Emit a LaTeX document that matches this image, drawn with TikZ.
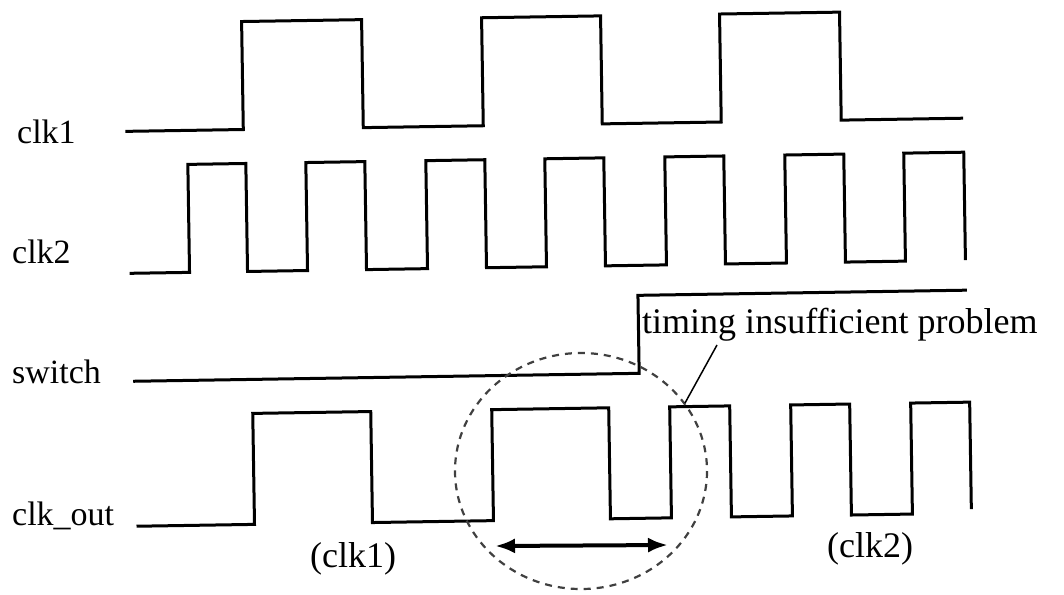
\documentclass[tikz,border=0pt]{standalone}
\usepackage{fontspec}
\setmainfont{Liberation Serif}
\usetikzlibrary{arrows.meta}
\def\unit{1pt}

\begin{document}
\begin{tikzpicture}[x=\unit, y=-\unit,
    wave/.style={line width=3pt, line join=miter},
    every node/.style={inner sep=0pt, font=\fontsize{34}{40}\selectfont}]
      \useasboundingbox (0,0) rectangle (1064,594);
      % signal names
      \node[anchor=base west] (nclkone) at (17,143) {clk1};
      \node[anchor=base west] (nclktwo) at (12,263) {clk2};
      \node[anchor=base west] (nswitch) at (12,383) {switch};
      \node[anchor=base west] (nclkout) at (12,525) {clk\_out};
      % waveforms
      \begin{scope}[rotate around={0.9:(532,300)}]
      \draw[wave] (128,125) -| (246,17) -| (366,125) -| (486,17) -| (605,125) -| (724,17) -| (844,125) -- (966,125);
      \draw[wave] (130,267) -| (190,159) -| (248,267) -| (308,159) -| (367,267) -| (428,159) -| (487,267) -| (547,159)
                  -| (606,267) -| (667,159) -| (726,267) -| (787,159) -| (846,267) -| (906,159) -| (966,267);
      \draw[wave] (132,375) -| (638,297) -- (967,297);
      \draw[wave] (133,520) -| (251,409) -| (369,520) -| (490,409) -| (607,520) -| (668,409) -| (728,520) -| (789,409)
                  -| (848,520) -| (909,409) -| (968,516);
      \end{scope}
      % switching window
      \draw[gray!50!black, line width=2.2pt, dash pattern=on 7pt off 6pt] (581,471) ellipse [x radius=126, y radius=118];
      \coordinate (winleft) at (495,546);
      \coordinate (winright) at (668,545);
      \draw[line width=4pt, {Latex[length=20pt,width=15pt]}-{Latex[length=20pt,width=15pt]}] (winleft) -- (winright);
      % annotation
      \node[anchor=base west, font=\fontsize{36}{42}\selectfont] (note) at (642,333) {timing insufficient problem};
      \coordinate (leadtop) at (717,345);
      \coordinate (leadtip) at (685,403);
      \draw[line width=1.5pt] (leadtop) -- (leadtip);
      \node[anchor=base west, font=\fontsize{36}{42}\selectfont] (srcone) at (310,567) {(clk1)};
      \node[anchor=base west, font=\fontsize{36}{42}\selectfont] (srctwo) at (827,557) {(clk2)};
    \end{tikzpicture}
\end{document}
